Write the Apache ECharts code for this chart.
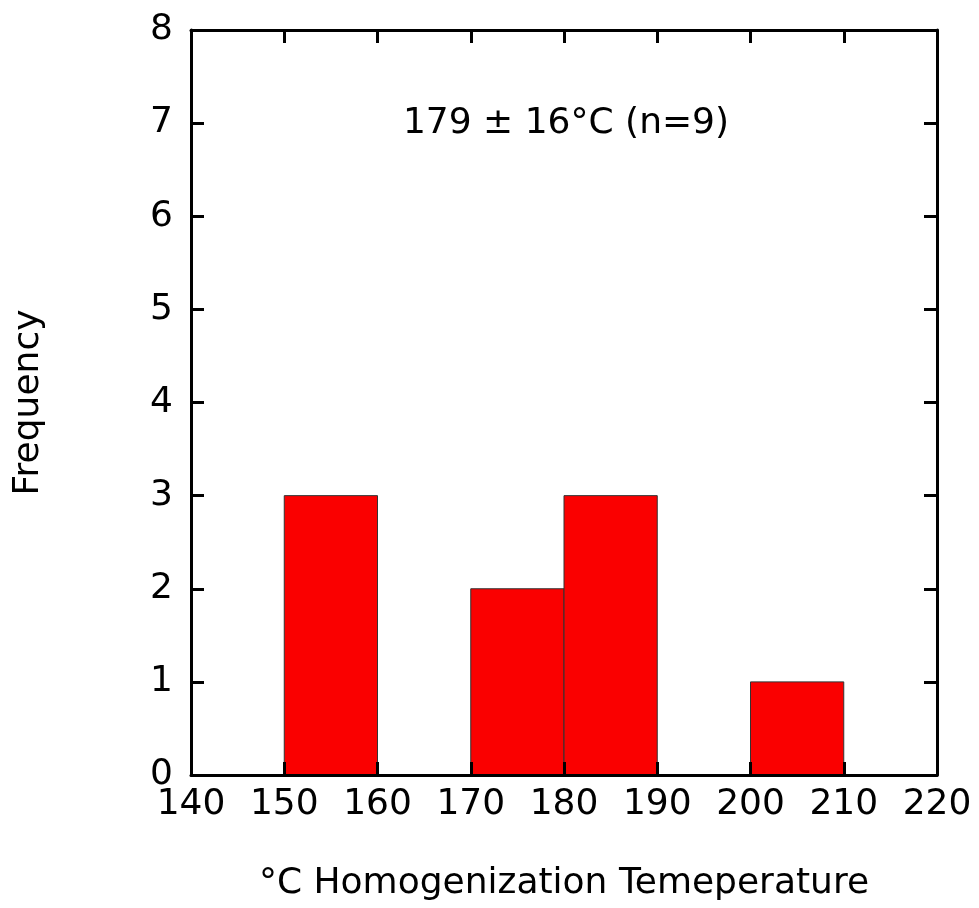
<!DOCTYPE html>
<html>
<head>
<meta charset="utf-8">
<script src="https://cdn.jsdelivr.net/npm/echarts@6/dist/echarts.min.js"></script>
<style>html,body{margin:0;padding:0;background:#fff;}#c{width:979px;height:908px;}</style>
</head>
<body>
<div id="c"></div>
<script>
// Histogram bins (°C) and frequencies
const binStarts = [150, 170, 180, 200];
const binEnds = [160, 180, 190, 210];
const counts = [3, 2, 3, 1];
const xTicks = [140, 150, 160, 170, 180, 190, 200, 210, 220];
const yTicks = [0, 1, 2, 3, 4, 5, 6, 7, 8];
const annotation = '179 ± 16°C (n=9)';
const xTitle = '°C Homogenization Temeperature';
const yTitle = 'Frequency';

const FONT = 'DejaVu Sans';
const chart = echarts.init(document.getElementById('c'), null, {renderer: 'canvas'});
const data = binStarts.map((s, i) => [s, binEnds[i], counts[i]]);

const axisCommon = {
  type: 'value',
  z: 5,
  axisLine: {show: true, onZero: false, lineStyle: {color: '#000', width: 3}},
  axisTick: {show: true, inside: true, length: 13, lineStyle: {color: '#000', width: 3}},
  splitLine: {show: false}
};

chart.setOption({
  animation: false,
  backgroundColor: '#fff',
  title: {
    text: annotation,
    left: 561, top: 101,
    textAlign: 'center',
    textStyle: {fontFamily: FONT, fontSize: 36, fontWeight: 'normal', color: '#000'}
  },
  grid: {left: 191, right: 42, top: 30, bottom: 133},
  xAxis: [
    Object.assign({}, axisCommon, {
      position: 'bottom', min: xTicks[0], max: xTicks[xTicks.length - 1], interval: 10,
      name: xTitle, nameLocation: 'middle', nameGap: 91,
      nameTextStyle: {fontFamily: FONT, fontSize: 36, color: '#000'},
      axisLabel: {fontFamily: FONT, fontSize: 36, color: '#000', margin: 12}
    }),
    Object.assign({}, axisCommon, {
      position: 'top', min: xTicks[0], max: xTicks[xTicks.length - 1], interval: 10,
      axisLabel: {show: false}
    })
  ],
  yAxis: [
    Object.assign({}, axisCommon, {
      position: 'left', min: yTicks[0], max: yTicks[yTicks.length - 1], interval: 1,
      name: yTitle, nameLocation: 'middle', nameGap: 144, nameRotate: 90,
      nameTextStyle: {fontFamily: FONT, fontSize: 36, color: '#000'},
      axisLabel: {fontFamily: FONT, fontSize: 36, color: '#000', margin: 18}
    }),
    Object.assign({}, axisCommon, {
      position: 'right', min: yTicks[0], max: yTicks[yTicks.length - 1], interval: 1,
      axisLabel: {show: false}
    })
  ],
  series: [{
    type: 'custom',
    z: 2,
    data: data,
    encode: {x: [0, 1], y: 2},
    renderItem: function (params, api) {
      const p0 = api.coord([api.value(0), api.value(2)]);
      const p1 = api.coord([api.value(1), 0]);
      return {
        type: 'rect',
        shape: {x: p0[0], y: p0[1], width: p1[0] - p0[0], height: p1[1] - p0[1]},
        style: {fill: '#fa0000', stroke: '#333', lineWidth: 1}
      };
    }
  }]
});
</script>
</body>
</html>
